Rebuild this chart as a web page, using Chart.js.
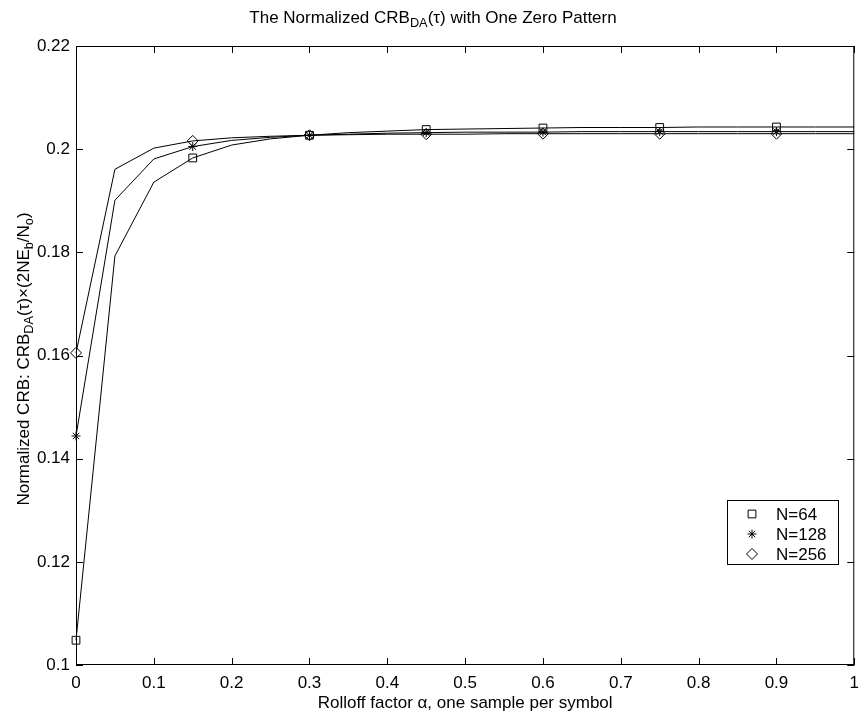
<!DOCTYPE html>
<html>
<head>
<meta charset="utf-8">
<script src="https://cdn.jsdelivr.net/npm/chart.js@4.4.1/dist/chart.umd.min.js"></script>
<style>
html, body { margin: 0; padding: 0; background: #fff; }
#wrap { width: 867px; height: 717px; }
</style>
</head>
<body>
<div id="wrap"><canvas id="crbChart" width="867" height="717"></canvas></div>
<script>
// rolloff factor, one sample per symbol
var alphaVals = [0, 0.05, 0.1, 0.15, 0.2, 0.25, 0.3, 0.35, 0.4, 0.45, 0.5,
                 0.55, 0.6, 0.65, 0.7, 0.75, 0.8, 0.85, 0.9, 0.95, 1];

var crbN64 = [0.1048, 0.1793, 0.1936, 0.1983, 0.2008, 0.2020, 0.2027, 0.2032, 0.2035, 0.2038, 0.2039,
              0.2040, 0.2041, 0.2042, 0.2042, 0.2042, 0.2043, 0.2043, 0.2043, 0.2043, 0.2043];
var crbN128 = [0.1444, 0.1901, 0.1981, 0.2005, 0.2017, 0.2023, 0.2027, 0.2029, 0.2031, 0.2032, 0.2033,
               0.2033, 0.2033, 0.2034, 0.2034, 0.2034, 0.2034, 0.2034, 0.2034, 0.2034, 0.2034];
var crbN256 = [0.1605, 0.1961, 0.2002, 0.2016, 0.2022, 0.2025, 0.2027, 0.2028, 0.2029, 0.2029, 0.2029,
               0.2030, 0.2030, 0.2030, 0.2030, 0.2030, 0.2030, 0.2030, 0.2030, 0.2030, 0.2030];

var seriesLabels = ['N=64', 'N=128', 'N=256'];
var xTicks = [0, 0.1, 0.2, 0.3, 0.4, 0.5, 0.6, 0.7, 0.8, 0.9, 1];
var yTicks = [0.1, 0.12, 0.14, 0.16, 0.18, 0.2, 0.22];

var FONT = '"Liberation Sans", Arial, Helvetica, sans-serif';
var FS = 17;

function toPoints(ys) {
    return ys.map(function (y, i) { return { x: alphaVals[i], y: y }; });
}

// markers only on every third sample, like the original plot
function markerRadius(r) {
    return function (c) { return c.dataIndex % 3 === 0 ? r : 0; };
}

function makeSet(label, ys, style, r) {
    return {
        label: label,
        data: toPoints(ys),
        borderColor: '#000',
        borderWidth: 1,
        pointStyle: style,
        pointRadius: markerRadius(r),
        pointHoverRadius: markerRadius(r),
        pointBorderColor: '#000',
        pointBackgroundColor: 'rgba(0,0,0,0)',
        pointBorderWidth: 1,
        tension: 0,
        fill: false,
        clip: false
    };
}

// text with subscripts: parts = [{t:'..', sub:true}, ...]
function drawRich(ctx, parts, x, y, size) {
    var w = 0;
    parts.forEach(function (p) {
        ctx.font = (p.sub ? size * 0.75 : size) + 'px ' + FONT;
        w += ctx.measureText(p.t).width;
    });
    var cx = x - w / 2;
    ctx.textBaseline = 'middle';
    ctx.textAlign = 'left';
    parts.forEach(function (p) {
        ctx.font = (p.sub ? size * 0.75 : size) + 'px ' + FONT;
        ctx.fillText(p.t, cx, y + (p.sub ? size * 0.35 : 0));
        cx += ctx.measureText(p.t).width;
    });
}

function drawMarker(ctx, style, x, y, r) {
    ctx.beginPath();
    if (style === 'rect') {
        var s = r * Math.SQRT1_2;
        ctx.rect(x - s, y - s, 2 * s, 2 * s);
    } else if (style === 'rectRot') {
        ctx.moveTo(x - r, y); ctx.lineTo(x, y - r); ctx.lineTo(x + r, y); ctx.lineTo(x, y + r); ctx.closePath();
    } else {
        var d = r * Math.SQRT1_2;
        ctx.moveTo(x - r, y); ctx.lineTo(x + r, y);
        ctx.moveTo(x, y - r); ctx.lineTo(x, y + r);
        ctx.moveTo(x - d, y - d); ctx.lineTo(x + d, y + d);
        ctx.moveTo(x - d, y + d); ctx.lineTo(x + d, y - d);
    }
    ctx.stroke();
}

var framePlugin = {
    id: 'matlabFrame',
    afterDraw: function (chart) {
        var ctx = chart.ctx;
        var a = chart.chartArea;
        var xs = chart.scales.x, ys = chart.scales.y;
        var tl = 7;
        ctx.save();
        ctx.strokeStyle = '#000';
        ctx.lineWidth = 1;
        ctx.strokeRect(a.left + 0.5, a.top + 0.5, a.right - a.left - 1, a.bottom - a.top - 1);
        ctx.beginPath();
        xTicks.forEach(function (v) {
            var px = Math.round(xs.getPixelForValue(v)) + 0.5;
            ctx.moveTo(px, a.bottom); ctx.lineTo(px, a.bottom - tl);
            ctx.moveTo(px, a.top); ctx.lineTo(px, a.top + tl);
        });
        yTicks.forEach(function (v) {
            var py = Math.round(ys.getPixelForValue(v)) + 0.5;
            ctx.moveTo(a.left, py); ctx.lineTo(a.left + tl, py);
            ctx.moveTo(a.right, py); ctx.lineTo(a.right - tl, py);
        });
        ctx.stroke();

        ctx.fillStyle = '#000';
        // title
        drawRich(ctx, [{ t: 'The Normalized CRB' }, { t: 'DA', sub: true }, { t: '(\u03c4) with One Zero Pattern' }],
                 433, 18, FS);
        // x axis title
        drawRich(ctx, [{ t: 'Rolloff factor \u03b1, one sample per symbol' }], (a.left + a.right) / 2, 703, FS);
        // y axis title
        ctx.save();
        ctx.translate(24, 359);
        ctx.rotate(-Math.PI / 2);
        drawRich(ctx, [{ t: 'Normalized CRB: CRB' }, { t: 'DA', sub: true }, { t: '(\u03c4)\u00d7(2NE' },
                       { t: 'b', sub: true }, { t: '/N' }, { t: 'o', sub: true }, { t: ')' }], 0, 0, FS);
        ctx.restore();

        // legend box
        var bx = 727, by = 500, bw = 111, bh = 64;
        ctx.fillStyle = '#fff';
        ctx.fillRect(bx, by, bw, bh);
        ctx.strokeRect(bx + 0.5, by + 0.5, bw, bh);
        ctx.fillStyle = '#000';
        ctx.font = FS + 'px ' + FONT;
        ctx.textAlign = 'left';
        ctx.textBaseline = 'middle';
        chart.data.datasets.forEach(function (ds, i) {
            var ly = 514 + i * 20;
            var r = ds.pointStyle === 'star' ? 4.5 : 5.5;
            drawMarker(ctx, ds.pointStyle, 752, ly, r);
            ctx.fillText(ds.label, 776, ly + 1);
        });
        ctx.restore();
    }
};

var ctx = document.getElementById('crbChart').getContext('2d');
new Chart(ctx, {
    type: 'line',
    data: {
        datasets: [
            makeSet(seriesLabels[0], crbN64, 'rect', 5.5),
            makeSet(seriesLabels[1], crbN128, 'star', 4.5),
            makeSet(seriesLabels[2], crbN256, 'rectRot', 5.5)
        ]
    },
    options: {
        responsive: false,
        devicePixelRatio: 1,
        animation: false,
        layout: { padding: { top: 46, right: -6, left: 0, bottom: 0 } },
        plugins: {
            legend: { display: false },
            title: { display: false },
            tooltip: { enabled: false }
        },
        scales: {
            x: {
                type: 'linear',
                min: 0,
                max: 1,
                afterFit: function (s) { s.height = 52; },
                afterBuildTicks: function (s) { s.ticks = xTicks.map(function (v) { return { value: v }; }); },
                grid: { display: false, drawTicks: false },
                border: { display: false },
                ticks: {
                    padding: 8,
                    color: '#000',
                    font: { family: FONT, size: FS },
                    maxRotation: 0,
                    callback: function (v) { return String(+v.toFixed(2)); }
                }
            },
            y: {
                type: 'linear',
                min: 0.1,
                max: 0.22,
                afterFit: function (s) { s.width = 76; },
                afterBuildTicks: function (s) { s.ticks = yTicks.map(function (v) { return { value: v }; }); },
                grid: { display: false, drawTicks: false },
                border: { display: false },
                ticks: {
                    padding: 6,
                    color: '#000',
                    font: { family: FONT, size: FS },
                    callback: function (v) { return String(+v.toFixed(2)); }
                }
            }
        }
    },
    plugins: [framePlugin]
});
</script>
</body>
</html>
